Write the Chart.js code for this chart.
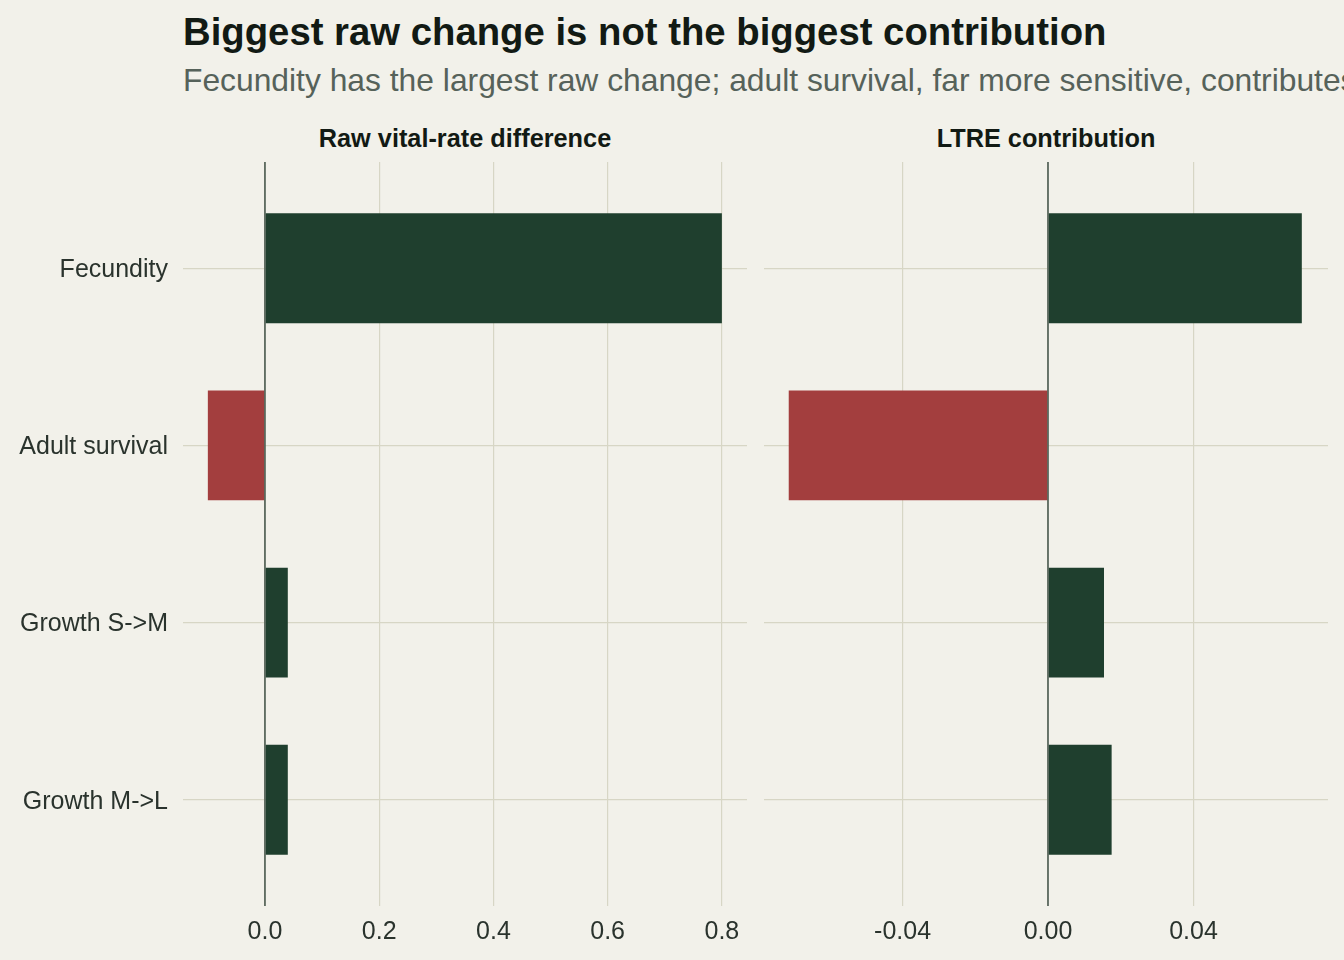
<!DOCTYPE html>
<html>
<head>
<meta charset="utf-8">
<script src="https://cdn.jsdelivr.net/npm/chart.js@4"></script>
<style>
  html, body { margin: 0; padding: 0; background: #F2F1EA; width: 1344px; height: 960px; overflow: hidden; }
  body { position: relative; font-family: "Liberation Sans", Arial, sans-serif; }
  #title { position: absolute; left: 183px; top: 10px; font-size: 38.3px; line-height: 44px; font-weight: bold; color: #121A14; white-space: nowrap; }
  #subtitle { position: absolute; left: 183px; top: 62px; font-size: 31.8px; line-height: 36px; color: #56625A; white-space: nowrap; }
  .ptitle { position: absolute; top: 124px; font-size: 25.3px; line-height: 29px; font-weight: bold; color: #121A14; text-align: center; white-space: nowrap; }
  canvas { position: absolute; }
</style>
</head>
<body>
<div id="title">Biggest raw change is not the biggest contribution</div>
<div id="subtitle">Fecundity has the largest raw change; adult survival, far more sensitive, contributes the most</div>
<div class="ptitle" id="pt1" style="left:183px; width:564px;">Raw vital-rate difference</div>
<div class="ptitle" id="pt2" style="left:764px; width:564px;">LTRE contribution</div>
<div style="position:absolute; left:0; top:110px; width:755px; height:850px;"><canvas id="c1" width="755" height="850"></canvas></div>
<div style="position:absolute; left:755px; top:110px; width:589px; height:850px;"><canvas id="c2" width="589" height="850"></canvas></div>
<script>
const categories = ['Fecundity', 'Adult survival', 'Growth S->M', 'Growth M->L'];
const rawDiff = [0.8, -0.1, 0.04, 0.04];
const ltreContrib = [0.0698, -0.0713, 0.0154, 0.0175];
const rawTicks = [0, 0.2, 0.4, 0.6, 0.8];
const rawTickLabels = ['0.0', '0.2', '0.4', '0.6', '0.8'];
const ltreTicks = [-0.04, 0, 0.04];
const ltreTickLabels = ['-0.04', '0.00', '0.04'];
const rawLimits = [-0.1435, 0.844];
const ltreLimits = [-0.0781, 0.077];

const POS = '#1F3F2E', NEG = '#A33E3E', GRID = '#D7D6C5', ZERO = '#4B5A50', TXT = '#2A332D';
const FONT = '"Liberation Sans", Arial, sans-serif';

const zeroLine = {
  id: 'zeroLine',
  afterDatasetsDraw(chart) {
    const x = chart.scales.x.getPixelForValue(0);
    const a = chart.chartArea, ctx = chart.ctx;
    ctx.save();
    ctx.strokeStyle = ZERO; ctx.lineWidth = 1.6;
    ctx.beginPath(); ctx.moveTo(x, a.top); ctx.lineTo(x, a.bottom); ctx.stroke();
    ctx.restore();
  }
};

function makeChart(id, values, ticks, tickLabels, limits, showY, padding) {
  return new Chart(document.getElementById(id), {
    type: 'bar',
    data: {
      datasets: [{
        data: values.map((v, i) => ({ x: v, y: i + 1 })),
        backgroundColor: values.map(v => v >= 0 ? POS : NEG),
        borderWidth: 0,
        barPercentage: 0.62,
        categoryPercentage: 1
      }]
    },
    options: {
      indexAxis: 'y',
      responsive: false,
      animation: false,
      layout: { padding: padding },
      plugins: { legend: { display: false }, tooltip: { enabled: false } },
      scales: {
        x: {
          type: 'linear', min: limits[0], max: limits[1], offset: false,
          afterBuildTicks: s => { s.ticks = ticks.map(v => ({ value: v })); },
          afterFit: s => { s.height = 54; },
          grid: { color: GRID, lineWidth: 1.2, drawTicks: false, offset: false },
          border: { display: false },
          ticks: {
            padding: 11, color: TXT, font: { family: FONT, size: 25 },
            callback: (v) => { const k = ticks.findIndex(t => Math.abs(t - v) < 1e-9); return k >= 0 ? tickLabels[k] : ''; }
          }
        },
        y: {
          type: 'linear', reverse: true, min: 0.4, max: categories.length + 0.6,
          offset: false,
          afterBuildTicks: s => { s.ticks = categories.map((c, i) => ({ value: i + 1 })); },
          afterFit: s => { s.width = showY ? 183 : 0; },
          grid: { color: GRID, lineWidth: 1.2, drawTicks: false, offset: false },
          border: { display: false },
          ticks: {
            display: showY, padding: 15, labelOffset: 2, color: TXT, font: { family: FONT, size: 25 },
            callback: (v) => categories[Math.round(v) - 1] || ''
          }
        }
      }
    },
    plugins: [zeroLine]
  });
}

makeChart('c1', rawDiff, rawTicks, rawTickLabels, rawLimits, true, { top: 52, right: 8, left: 0, bottom: 0 });
makeChart('c2', ltreContrib, ltreTicks, ltreTickLabels, ltreLimits, false, { top: 52, right: 16, left: 9, bottom: 0 });
</script>
</body>
</html>
